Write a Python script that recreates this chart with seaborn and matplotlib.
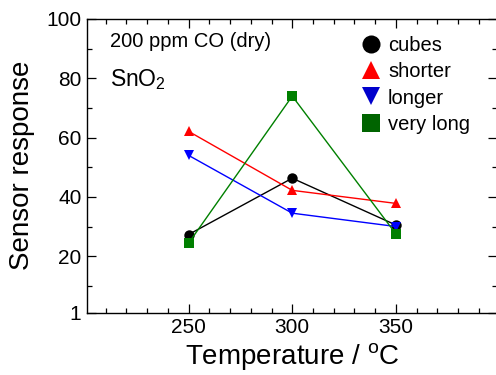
import matplotlib
matplotlib.use("Agg")
import matplotlib.pyplot as plt
import seaborn as sns
import pandas as pd
from matplotlib.lines import Line2D
from matplotlib.ticker import MultipleLocator, FixedLocator

sns.set_style("ticks")
plt.rcParams['font.family'] = ['Liberation Sans', 'DejaVu Sans']
plt.rcParams['mathtext.fontset'] = 'custom'
plt.rcParams['mathtext.rm'] = 'Liberation Sans'
for k in ['text.color', 'axes.labelcolor', 'xtick.color', 'ytick.color', 'axes.edgecolor']:
    plt.rcParams[k] = 'black'

temps = [250, 300, 350]
series_names = ["cubes", "shorter", "longer", "very long"]
cubes = [27.3, 46.3, 30.5]
shorter = [62.1, 42.2, 37.8]
longer = [54.0, 34.5, 30.0]
very_long = [24.4, 74.0, 27.5]
y_ticks = [1, 20, 40, 60, 80, 100]
x_ticks = [250, 300, 350]

colors = {"cubes": "#000000", "shorter": "#ff0000", "longer": "#0000ff", "very long": "#008000"}
legend_colors = {"cubes": "#000000", "shorter": "#ff0000", "longer": "#0000cc", "very long": "#006400"}
markers = {"cubes": "o", "shorter": "^", "longer": "v", "very long": "s"}

values = [cubes, shorter, longer, very_long]
rows = []
for name, vals in zip(series_names, values):
    for t, v in zip(temps, vals):
        rows.append({"T": t, "resp": v, "sample": name})
df = pd.DataFrame(rows)

fig = plt.figure(figsize=(4.96, 3.75), dpi=100)
ax = fig.add_axes([87/496, (375-312.5)/375, 410.5/496, 293.5/375])

sns.lineplot(data=df, x="T", y="resp", hue="sample", style="sample",
             palette=colors, markers=markers, dashes=False, linewidth=1.0,
             markersize=7.5, markeredgewidth=0, legend=False, ax=ax, sort=False)

ax.set_xlim(201, 399)
ax.set_ylim(1, 100)
ax.xaxis.set_major_locator(FixedLocator(x_ticks))
ax.xaxis.set_minor_locator(MultipleLocator(10))
ax.yaxis.set_major_locator(FixedLocator(y_ticks))
ax.yaxis.set_minor_locator(FixedLocator([10, 30, 50, 70, 90]))
ax.set_xticklabels([str(v) for v in x_ticks])
ax.set_yticklabels([str(v) for v in y_ticks])
ax.tick_params(which="both", direction="in", top=True, right=True, width=0.9, labelsize=15, pad=4,
               colors="black")
ax.tick_params(which="major", length=6.5)
ax.tick_params(which="minor", length=3.5)
for s in ax.spines.values():
    s.set_linewidth(1.0)
    s.set_color("black")

ax.set_xlabel(r"Temperature / $^{\rm o}$C", fontsize=20, labelpad=3, color="black")
ax.set_ylabel("Sensor response", fontsize=20, labelpad=8, color="black")

ax.text(0.057, 0.905, "200 ppm CO (dry)", transform=ax.transAxes, fontsize=14.5, va="baseline")
ax.text(0.057, 0.77, r"SnO$_2$", transform=ax.transAxes, fontsize=16.5, va="baseline")

handles = [Line2D([], [], linestyle="none", marker=markers[n], color=legend_colors[n],
                  markersize=13, markeredgewidth=0) for n in series_names]
ax.legend(handles, series_names, loc="upper left", bbox_to_anchor=(0.635, 0.99),
          frameon=False, fontsize=14.5, handlelength=0.9, handletextpad=0.4,
          labelspacing=0.36, borderpad=0.2, labelcolor="black")

fig.savefig("out.png", dpi=100)
